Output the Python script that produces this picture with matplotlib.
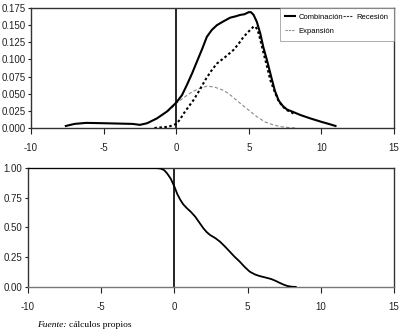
import matplotlib
matplotlib.use("Agg")
import matplotlib.pyplot as plt
from matplotlib.lines import Line2D

# ---- data ----
comb_x = [-7.6, -7.0, -6.2, -5.0, -4.0, -3.0, -2.5, -2.0, -1.33, -0.64, 0.0, 0.4, 0.74, 1.1, 1.43, 1.8, 2.11, 2.45, 2.8, 3.2, 3.72, 4.1, 4.41, 4.7, 4.99, 5.15, 5.33, 5.55, 5.79, 6.0, 6.25, 6.6, 6.8, 7.06, 7.35, 7.63, 8.1, 8.55, 9.24, 10.0, 10.5, 10.97]
comb_y = [0.003, 0.006, 0.0075, 0.007, 0.0065, 0.006, 0.0046, 0.007, 0.014, 0.024, 0.037, 0.048, 0.063, 0.080, 0.097, 0.116, 0.133, 0.143, 0.150, 0.155, 0.161, 0.163, 0.165, 0.166, 0.169, 0.169, 0.165, 0.155, 0.138, 0.118, 0.099, 0.070, 0.054, 0.040, 0.032, 0.027, 0.023, 0.019, 0.014, 0.009, 0.006, 0.003]

rec_x = [-1.5, -1.0, -0.5, 0.0, 0.25, 0.51, 0.85, 1.2, 1.6, 2.0, 2.4, 2.8, 3.4, 3.95, 4.3, 4.64, 5.0, 5.33, 5.45, 5.61, 5.8, 6.02, 6.25, 6.48, 6.8, 7.06, 7.35, 7.63, 8.1]
rec_y = [0.000, 0.001, 0.002, 0.006, 0.012, 0.021, 0.031, 0.041, 0.055, 0.070, 0.083, 0.094, 0.104, 0.114, 0.123, 0.133, 0.141, 0.148, 0.148, 0.143, 0.128, 0.109, 0.090, 0.070, 0.052, 0.039, 0.031, 0.026, 0.021]

exp_x = [-0.6, -0.3, 0.0, 0.5, 0.97, 1.5, 2.11, 2.6, 3.26, 3.8, 4.41, 5.0, 5.56, 6.1, 6.71, 7.2, 7.7, 8.2]
exp_y = [0.024, 0.029, 0.036, 0.044, 0.051, 0.057, 0.061, 0.060, 0.055, 0.047, 0.036, 0.026, 0.0165, 0.009, 0.0044, 0.002, 0.0008, 0.0]

cdf_x = [-10.0, -1.62, -1.2, -0.95, -0.7, -0.5, -0.25, 0.0, 0.2, 0.41, 0.6, 0.86, 1.15, 1.42, 1.7, 1.98, 2.2, 2.43, 2.8, 3.11, 3.45, 3.78, 4.1, 4.46, 4.8, 5.14, 5.5, 5.81, 6.2, 6.6, 6.9, 7.16, 7.45, 7.72, 8.0, 8.29]
cdf_y = [1.0, 1.0, 0.999, 0.996, 0.982, 0.955, 0.91, 0.843, 0.78, 0.731, 0.695, 0.661, 0.628, 0.591, 0.542, 0.493, 0.462, 0.437, 0.410, 0.381, 0.340, 0.297, 0.255, 0.213, 0.168, 0.129, 0.105, 0.092, 0.080, 0.067, 0.052, 0.036, 0.020, 0.008, 0.002, 0.0]

xticks = [-10, -5, 0, 5, 10, 15]
top_yticks = [0.0, 0.025, 0.05, 0.075, 0.1, 0.125, 0.15, 0.175]
bot_yticks = [0.0, 0.25, 0.5, 0.75, 1.0]
labels = ["Combinación", "Recesión", "Expansión"]

plt.rcParams['font.family'] = ['Liberation Sans', 'DejaVu Sans']

fig = plt.figure(figsize=(4.03, 3.36), dpi=100)
ax1 = fig.add_axes([0.0769, 0.619, 0.9008, 0.357])
ax2 = fig.add_axes([0.0695, 0.146, 0.9082, 0.354])

spine_col = '#333333'
for ax in (ax1, ax2):
    for s in ax.spines.values():
        s.set_color(spine_col)
        s.set_linewidth(1.0)
    ax.set_xlim(-10, 15)
    ax.set_xticks(xticks)
    ax.set_xticklabels([str(v) for v in xticks])
    ax.tick_params(axis='x', direction='out', length=4, width=0.8, pad=6.5, labelsize=7, colors='#222222')
    ax.tick_params(axis='y', direction='out', length=2.5, width=0.8, pad=1.5, labelsize=7, colors='#222222')
    ax.axvline(0, color='black', lw=1.2, zorder=1)

ax1.plot(exp_x, exp_y, color='#8a8a8a', lw=0.8, ls=(0, (3, 2)), zorder=2)
ax1.plot(rec_x, rec_y, color='black', lw=1.5, ls=(0, (1.2, 1.2)), zorder=3)
ax1.plot(comb_x, comb_y, color='black', lw=1.5, zorder=4)
ax1.set_ylim(0, 0.175)
ax1.set_yticks(top_yticks)
ax1.set_yticklabels([f"{v:.3f}" for v in top_yticks])

handles = [Line2D([], [], color='black', lw=1.5),
           Line2D([], [], color='#333333', lw=0.8, ls=(0, (2, 1))),
           Line2D([], [], color='#8a8a8a', lw=0.8, ls=(0, (2, 1)))]
leg = ax1.legend([handles[0], handles[2], handles[1]], [labels[0], labels[2], labels[1]],
                 loc='upper right', ncol=2, fontsize=5.5, frameon=True, fancybox=False,
                 borderaxespad=0, handlelength=1.3, handletextpad=0.4, columnspacing=0.05,
                 labelspacing=0.85, borderpad=0.75)
leg.get_frame().set_edgecolor('#888888')
leg.get_frame().set_linewidth(0.6)

ax2.plot(cdf_x, cdf_y, color='black', lw=1.3, zorder=3)
ax2.set_ylim(0, 1.0)
ax2.set_yticks(bot_yticks)
ax2.set_yticklabels([f"{v:.2f}" for v in bot_yticks])
ax2.spines['bottom'].set_color('#777777')

fig.text(0.092, 0.033, "Fuente:", fontsize=6.8, family='Liberation Serif', style='italic', va='center')
fig.text(0.170, 0.033, "cálculos propios", fontsize=6.8, family='Liberation Serif', va='center')

fig.savefig("out.png", dpi=100)
